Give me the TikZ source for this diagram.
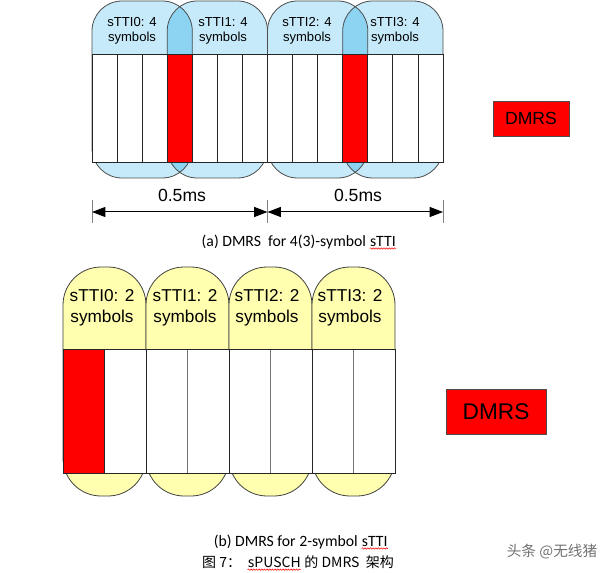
\documentclass[tikz,border=0pt]{standalone}
\usepackage{fontspec}
\setmainfont{Liberation Sans}
\newfontfamily\capfont{Carlito}
\newfontfamily\cjk{Noto Sans CJK SC}
\usetikzlibrary{arrows.meta,decorations.pathmorphing}
\definecolor{sttiblue}{RGB}{198,234,250}
\definecolor{sttiover}{RGB}{140,212,242}
\definecolor{sttiyel}{RGB}{255,255,175}
\definecolor{dmrsred}{RGB}{255,0,0}
% red spell-check underline
\newcommand\spellmark[1]{\tikz[baseline=(sm.base)]{\node[inner sep=0pt] (sm) {#1};
  \draw[red,line width=0.4pt,decorate,decoration={snake,amplitude=0.5pt,segment length=2pt}]
  ([yshift=-1.5pt]sm.south west) -- ([yshift=-1.5pt]sm.south east);}}
\begin{document}
\begin{tikzpicture}[x=0.75pt,y=-0.75pt,
  capA/.style={draw=black!70,line width=0.6pt,rounded corners=22.5pt},
  capB/.style={draw=black!75,line width=0.6pt,fill=sttiyel,rounded corners=28.5pt},
  cell/.style={draw=black!85,line width=0.6pt,fill=white},
  dmrscell/.style={draw=black!85,line width=0.6pt,fill=dmrsred},
  divider/.style={draw=black!55,line width=1.1pt},
  lblA/.style={font=\fontsize{9.8}{11.3}\selectfont,align=center,inner sep=0pt},
  lblB/.style={font=\fontsize{12.9}{15.7}\selectfont,align=center,inner sep=0pt},
  dmrs/.style={draw=black!70,fill=dmrsred,line width=0.6pt,inner sep=0pt},
  tick/.style={draw=black!50,line width=0.75pt},
  dimline/.style={{Triangle[length=10pt,width=7.5pt]}-{Triangle[length=10pt,width=7.5pt]},line width=0.75pt},
  dimlbl/.style={font=\fontsize{13.2}{15}\selectfont,inner sep=0pt},
  caption/.style={font=\capfont\fontsize{11.8}{14}\selectfont,inner sep=0pt}]
\useasboundingbox (0,0) rectangle (616,573);

% (a) 4(3)-symbol sTTI
\foreach \c in {0,7}
{
	\fill[sttiblue,rounded corners=22.5pt] ({92+25.07*\c},1) rectangle ++(100.3,177);
	\fill[sttiblue,rounded corners=22.5pt] ({92+25.07*(\c+3)},1) rectangle ++(100.3,177);
	\begin{scope}
		\clip[rounded corners=22.5pt] ({92+25.07*\c},1) rectangle ++(100.3,177);
		\fill[sttiover,rounded corners=22.5pt] ({92+25.07*(\c+3)},1) rectangle ++(100.3,177);
	\end{scope}
	\draw[capA] ({92+25.07*\c},1) rectangle ++(100.3,177);
	\draw[capA] ({92+25.07*(\c+3)},1) rectangle ++(100.3,177);
}
\foreach \i in {0,...,13}
	\draw[cell] ({92+25.07*\i},54) rectangle ++(25.07,108);
\foreach \i in {3,10}
	\draw[dmrscell] ({92+25.07*\i},54) rectangle ++(25.07,108);
\foreach \i/\x in {0/132,1/223,2/307,3/395}
	\node[lblA] (sa\i) at (\x,31) {sTTI\i: 4\\symbols};

\coordinate (d0) at (92,212);
\coordinate (d1) at (267.5,212);
\coordinate (d2) at (443,212);
\foreach \p in {d0,d1,d2}
	\draw[tick] ([yshift=9pt]\p) -- ([yshift=-8.5pt]\p);
\draw[dimline] (d0) -- (d1);
\draw[dimline] (d1) -- (d2);
\node[dimlbl] (ms0) at (182,195) {0.5ms};
\node[dimlbl] (ms1) at (358,195) {0.5ms};

\node[caption] (capa) at (299,242) {(a) DMRS\ \ for 4(3)-symbol \spellmark{sTTI}};
\node[dmrs,minimum width=57pt,minimum height=26.25pt,font=\fontsize{13.2}{15}\selectfont] (dmrsa) at (531,118.5) {DMRS};

% (b) 2-symbol sTTI
\foreach \k in {0,...,3}
	\draw[capB] ({63+83*\k},267) rectangle ++(83,229);
\foreach \j in {0,...,7}
	\draw[cell] ({63+41.5*\j},349) rectangle ++(41.5,124);
\draw[dmrscell] (63,349) rectangle ++(41.5,124);
\foreach \k in {1,2,3}
	\draw[divider] ({104.5+83*\k},349.5) -- ++(0,123);
\foreach \k/\x in {0/102,1/185,2/267,3/350}
	\node[lblB] (sb\k) at (\x,307.5) {sTTI\k: 2\\symbols};

\node[dmrs,minimum width=75pt,minimum height=33.75pt,font=\fontsize{17}{20}\selectfont] (dmrsb) at (496,411.5) {DMRS};

\node[caption] (capb) at (301,542) {(b) DMRS for 2-symbol \spellmark{sTTI}};
\node[font=\cjk\fontsize{10.5}{12}\selectfont,inner sep=0pt] (fig) at (298,563) {图 7：\ \ \spellmark{sPUSCH} 的 DMRS\ \ 架构};
\node[font=\cjk\fontsize{11}{13}\selectfont,text=black!55,inner sep=0pt] (wm) at (552,552) {头条 @无线猪};
\end{tikzpicture}
\end{document}
